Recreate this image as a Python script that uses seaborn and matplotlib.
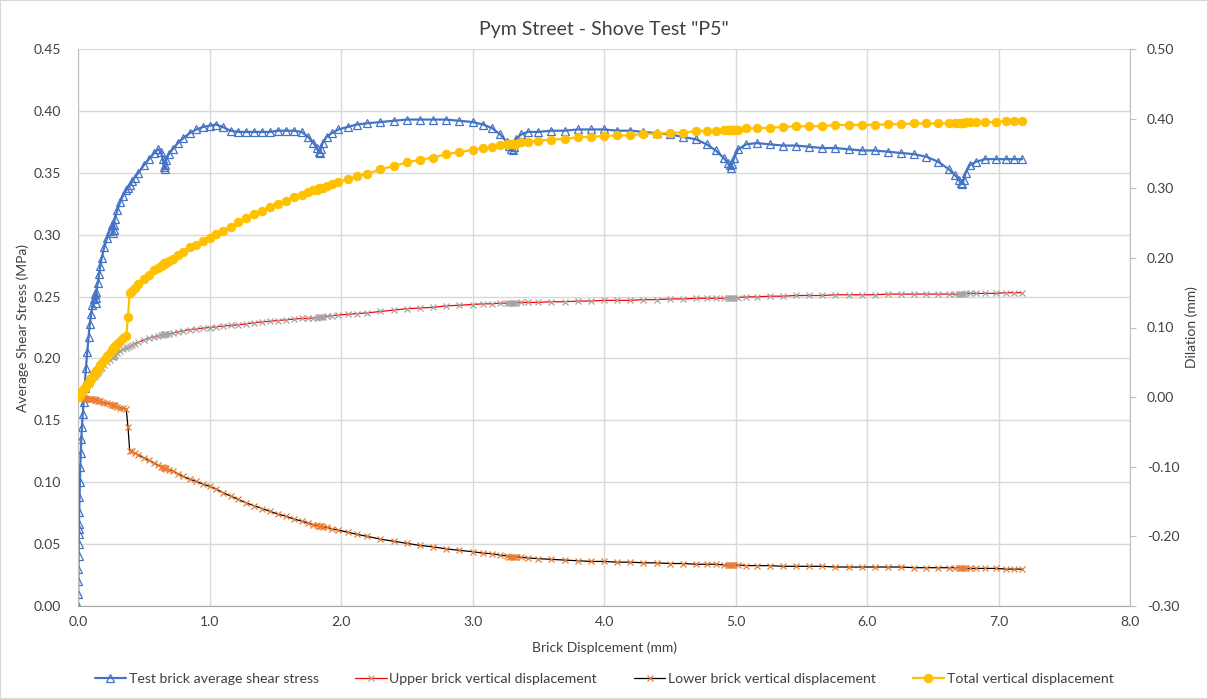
import matplotlib
matplotlib.use('Agg')
import numpy as np
import matplotlib.pyplot as plt
import seaborn as sns
from matplotlib.ticker import FormatStrFormatter

# brick displacement (mm) - shared x for every series
brick_disp = [
    0.000, 0.001, 0.002, 0.003, 0.004, 0.005, 0.006, 0.006, 0.007, 0.009,
    0.011, 0.014, 0.017, 0.021, 0.025, 0.030, 0.036, 0.043, 0.050, 0.060,
    0.070, 0.080, 0.090, 0.100, 0.110, 0.120, 0.130, 0.138, 0.139, 0.140,
    0.150, 0.160, 0.170, 0.180, 0.200, 0.220, 0.240, 0.260, 0.268, 0.270,
    0.272, 0.280, 0.300, 0.320, 0.340, 0.367, 0.380, 0.393, 0.410, 0.430,
    0.460, 0.500, 0.540, 0.580, 0.610, 0.630, 0.645, 0.655, 0.660, 0.662,
    0.670, 0.690, 0.720, 0.760, 0.800, 0.850, 0.900, 0.950, 1.000, 1.050,
    1.100, 1.160, 1.220, 1.280, 1.340, 1.400, 1.460, 1.520, 1.580, 1.640,
    1.700, 1.750, 1.790, 1.815, 1.830, 1.840, 1.845, 1.860, 1.890, 1.930,
    1.980, 2.050, 2.120, 2.200, 2.300, 2.400, 2.500, 2.600, 2.700, 2.800,
    2.900, 3.000, 3.080, 3.150, 3.210, 3.260, 3.280, 3.295, 3.305, 3.315,
    3.330, 3.370, 3.420, 3.500, 3.600, 3.700, 3.800, 3.900, 4.000, 4.100,
    4.200, 4.300, 4.400, 4.500, 4.600, 4.700, 4.780, 4.850, 4.910, 4.940,
    4.955, 4.965, 4.975, 4.990, 5.020, 5.080, 5.160, 5.260, 5.360, 5.460,
    5.560, 5.660, 5.760, 5.860, 5.960, 6.060, 6.160, 6.260, 6.360, 6.450,
    6.540, 6.620, 6.670, 6.700, 6.715, 6.725, 6.735, 6.750, 6.780, 6.830,
    6.900, 6.980, 7.060, 7.120, 7.180,
]

# test brick average shear stress (MPa) - left axis
shear_stress = [
    0.000, 0.010, 0.020, 0.030, 0.040, 0.050, 0.058, 0.062, 0.066, 0.076,
    0.088, 0.100, 0.112, 0.124, 0.135, 0.145, 0.155, 0.165, 0.176, 0.192,
    0.205, 0.217, 0.228, 0.236, 0.243, 0.248, 0.252, 0.245, 0.249, 0.254,
    0.261, 0.268, 0.275, 0.281, 0.290, 0.297, 0.303, 0.308, 0.301, 0.304,
    0.308, 0.313, 0.320, 0.326, 0.331, 0.336, 0.338, 0.340, 0.343, 0.346,
    0.350, 0.356, 0.361, 0.366, 0.369, 0.367, 0.361, 0.355, 0.353, 0.356,
    0.360, 0.365, 0.369, 0.374, 0.378, 0.382, 0.385, 0.387, 0.388, 0.389,
    0.387, 0.384, 0.383, 0.383, 0.383, 0.383, 0.383, 0.384, 0.384, 0.384,
    0.383, 0.379, 0.374, 0.370, 0.367, 0.366, 0.369, 0.374, 0.379, 0.382,
    0.385, 0.387, 0.389, 0.390, 0.391, 0.392, 0.393, 0.393, 0.393, 0.393,
    0.392, 0.391, 0.389, 0.386, 0.381, 0.375, 0.372, 0.369, 0.368, 0.371,
    0.377, 0.381, 0.383, 0.383, 0.384, 0.384, 0.385, 0.385, 0.385, 0.384,
    0.384, 0.383, 0.382, 0.381, 0.379, 0.377, 0.373, 0.368, 0.362, 0.358,
    0.356, 0.354, 0.357, 0.362, 0.369, 0.373, 0.374, 0.373, 0.372, 0.372,
    0.371, 0.370, 0.370, 0.369, 0.368, 0.368, 0.367, 0.366, 0.365, 0.363,
    0.359, 0.353, 0.348, 0.344, 0.342, 0.341, 0.344, 0.350, 0.356, 0.359,
    0.361, 0.361, 0.361, 0.361, 0.361,
]

# upper brick vertical displacement (mm) - right axis
upper_disp = [
    0.000, 0.000, 0.001, 0.001, 0.001, 0.001, 0.002, 0.002, 0.002, 0.002,
    0.003, 0.004, 0.004, 0.005, 0.006, 0.007, 0.009, 0.010, 0.012, 0.014,
    0.017, 0.019, 0.022, 0.024, 0.026, 0.029, 0.031, 0.033, 0.033, 0.033,
    0.035, 0.037, 0.040, 0.042, 0.046, 0.050, 0.054, 0.057, 0.058, 0.058,
    0.059, 0.060, 0.063, 0.066, 0.069, 0.071, 0.072, 0.073, 0.075, 0.077,
    0.079, 0.082, 0.085, 0.087, 0.088, 0.089, 0.089, 0.090, 0.090, 0.090,
    0.090, 0.091, 0.092, 0.094, 0.095, 0.097, 0.098, 0.099, 0.100, 0.101,
    0.102, 0.103, 0.104, 0.105, 0.107, 0.108, 0.109, 0.110, 0.111, 0.112,
    0.113, 0.113, 0.114, 0.114, 0.115, 0.115, 0.115, 0.115, 0.116, 0.117,
    0.118, 0.119, 0.120, 0.121, 0.123, 0.125, 0.127, 0.128, 0.129, 0.131,
    0.132, 0.133, 0.134, 0.134, 0.135, 0.135, 0.135, 0.135, 0.135, 0.135,
    0.135, 0.136, 0.136, 0.136, 0.137, 0.137, 0.138, 0.138, 0.139, 0.139,
    0.139, 0.140, 0.140, 0.141, 0.141, 0.142, 0.142, 0.142, 0.142, 0.143,
    0.143, 0.143, 0.143, 0.143, 0.143, 0.144, 0.144, 0.145, 0.145, 0.146,
    0.146, 0.146, 0.147, 0.147, 0.147, 0.147, 0.148, 0.148, 0.148, 0.148,
    0.148, 0.148, 0.148, 0.148, 0.148, 0.148, 0.148, 0.149, 0.149, 0.149,
    0.149, 0.149, 0.150, 0.150, 0.150,
]

# lower brick vertical displacement (mm) - right axis
lower_disp = [
    0.000, 0.000, 0.000, 0.000, 0.000, 0.000, 0.000, 0.000, 0.000, 0.000,
    0.000, 0.000, -0.001, -0.001, -0.001, -0.001, -0.001, -0.001, -0.001, -0.002,
    -0.002, -0.002, -0.002, -0.003, -0.003, -0.003, -0.004, -0.004, -0.004, -0.004,
    -0.005, -0.005, -0.006, -0.007, -0.008, -0.009, -0.010, -0.011, -0.012, -0.012,
    -0.012, -0.013, -0.014, -0.015, -0.016, -0.017, -0.043, -0.077, -0.078, -0.080,
    -0.083, -0.087, -0.091, -0.095, -0.098, -0.100, -0.101, -0.102, -0.102, -0.102,
    -0.103, -0.104, -0.106, -0.110, -0.114, -0.118, -0.121, -0.125, -0.128, -0.132,
    -0.137, -0.142, -0.147, -0.152, -0.156, -0.160, -0.164, -0.168, -0.171, -0.175,
    -0.178, -0.181, -0.183, -0.184, -0.185, -0.185, -0.185, -0.186, -0.187, -0.189,
    -0.191, -0.194, -0.197, -0.200, -0.204, -0.207, -0.210, -0.213, -0.215, -0.218,
    -0.220, -0.222, -0.224, -0.225, -0.227, -0.228, -0.229, -0.229, -0.229, -0.229,
    -0.229, -0.230, -0.231, -0.232, -0.233, -0.234, -0.235, -0.236, -0.236, -0.237,
    -0.237, -0.238, -0.238, -0.239, -0.239, -0.240, -0.240, -0.240, -0.241, -0.241,
    -0.241, -0.241, -0.241, -0.241, -0.241, -0.242, -0.242, -0.242, -0.243, -0.243,
    -0.243, -0.243, -0.244, -0.244, -0.244, -0.244, -0.244, -0.244, -0.245, -0.245,
    -0.245, -0.245, -0.245, -0.245, -0.245, -0.245, -0.246, -0.246, -0.246, -0.246,
    -0.246, -0.246, -0.247, -0.247, -0.247,
]

# total vertical displacement (mm) - right axis
total_disp = [
    0.000, 0.000, 0.001, 0.001, 0.001, 0.001, 0.002, 0.002, 0.002, 0.002,
    0.003, 0.004, 0.005, 0.006, 0.007, 0.008, 0.010, 0.011, 0.013, 0.016,
    0.019, 0.021, 0.024, 0.027, 0.029, 0.032, 0.035, 0.037, 0.037, 0.037,
    0.040, 0.042, 0.046, 0.049, 0.054, 0.059, 0.064, 0.068, 0.070, 0.070,
    0.071, 0.073, 0.077, 0.081, 0.085, 0.088, 0.115, 0.150, 0.153, 0.157,
    0.162, 0.169, 0.176, 0.182, 0.186, 0.189, 0.190, 0.192, 0.192, 0.192,
    0.193, 0.195, 0.198, 0.204, 0.209, 0.215, 0.219, 0.224, 0.229, 0.234,
    0.239, 0.245, 0.251, 0.257, 0.263, 0.268, 0.273, 0.278, 0.282, 0.287,
    0.291, 0.294, 0.297, 0.298, 0.300, 0.300, 0.300, 0.301, 0.303, 0.306,
    0.309, 0.313, 0.317, 0.321, 0.327, 0.332, 0.337, 0.341, 0.344, 0.349,
    0.352, 0.355, 0.358, 0.359, 0.362, 0.363, 0.364, 0.364, 0.364, 0.364,
    0.364, 0.366, 0.367, 0.368, 0.370, 0.371, 0.373, 0.374, 0.375, 0.376,
    0.376, 0.378, 0.378, 0.380, 0.380, 0.382, 0.382, 0.382, 0.383, 0.384,
    0.384, 0.384, 0.384, 0.384, 0.384, 0.386, 0.386, 0.387, 0.388, 0.389,
    0.389, 0.389, 0.391, 0.391, 0.391, 0.391, 0.392, 0.392, 0.393, 0.393,
    0.393, 0.393, 0.393, 0.393, 0.393, 0.393, 0.394, 0.395, 0.395, 0.395,
    0.395, 0.395, 0.397, 0.397, 0.397,
]

series_labels = [
    'Test brick average shear stress',
    'Upper brick vertical displacement',
    'Lower brick vertical displacement',
    'Total vertical displacement',
]

x_ticks = np.arange(0, 8.01, 1.0)
left_ticks = np.arange(0, 0.4501, 0.05)
right_ticks = np.arange(-0.3, 0.5001, 0.1)

for arr in (shear_stress, upper_disp, lower_disp, total_disp):
    assert len(arr) == len(brick_disp)


def main():
    sns.set_style('white')
    plt.rcParams['font.family'] = ['Lato', 'DejaVu Sans']
    plt.rcParams['axes.unicode_minus'] = False
    text_color = '#404040'
    axis_color = '#BFBFBF'
    grid_color = '#D9D9D9'

    fig = plt.figure(figsize=(12.08, 6.99), dpi=100)
    W, H = 1208, 699
    left, right, top, bottom = 78, 1130, 49, 606
    ax = fig.add_axes([left / W, 1 - bottom / H, (right - left) / W, (bottom - top) / H])
    ax2 = ax.twinx()

    # primary axis: shear stress
    sns.lineplot(x=brick_disp, y=shear_stress, ax=ax, estimator=None, sort=False,
                 color='#4472C4', linewidth=1.6, marker='^', markersize=5.5,
                 markerfacecolor='none', markeredgecolor='#4472C4',
                 markeredgewidth=0.9, label=series_labels[0], legend=False)

    # secondary axis: displacements
    sns.lineplot(x=brick_disp, y=upper_disp, ax=ax2, estimator=None, sort=False,
                 color='#FF0000', linewidth=0.9, marker='x', markersize=4.3,
                 markeredgecolor='#A5A5A5', markeredgewidth=0.9,
                 label=series_labels[1], legend=False)
    sns.lineplot(x=brick_disp, y=lower_disp, ax=ax2, estimator=None, sort=False,
                 color='black', linewidth=0.9, marker='x', markersize=4.3,
                 markeredgecolor='#ED7D31', markeredgewidth=0.9,
                 label=series_labels[2], legend=False)
    sns.lineplot(x=brick_disp, y=total_disp, ax=ax2, estimator=None, sort=False,
                 color='#FFC000', linewidth=1.6, marker='o', markersize=6.3,
                 markerfacecolor='#FFC000', markeredgecolor='#FFC000',
                 markeredgewidth=0.5, label=series_labels[3], legend=False)

    # limits and ticks
    ax.set_xlim(0, 8)
    ax.set_ylim(0, 0.45)
    ax2.set_ylim(-0.3, 0.5)
    ax.set_xticks(x_ticks)
    ax.set_yticks(left_ticks)
    ax2.set_yticks(right_ticks)
    ax.xaxis.set_major_formatter(FormatStrFormatter('%.1f'))
    ax.yaxis.set_major_formatter(FormatStrFormatter('%.2f'))
    ax2.yaxis.set_major_formatter(FormatStrFormatter('%.2f'))

    ax.grid(True, color=grid_color, linewidth=1)
    ax2.grid(False)
    ax.set_axisbelow(True)

    for side in ['top', 'right']:
        ax.spines[side].set_visible(False)
    for side in ['top', 'left', 'bottom']:
        ax2.spines[side].set_visible(False)
    ax.spines['left'].set_color(axis_color)
    ax.spines['bottom'].set_color('#A6A6A6')
    ax2.spines['right'].set_color(axis_color)

    ax.tick_params(axis='y', length=0, pad=12, labelsize=10, labelcolor=text_color)
    ax.tick_params(axis='x', length=4, color=axis_color, pad=3, labelsize=10,
                   labelcolor=text_color)
    ax2.tick_params(axis='y', length=4, color=axis_color, pad=8, labelsize=10,
                    labelcolor=text_color)

    # axis titles
    ax.set_xlabel('Brick Displcement (mm)', fontsize=10, color=text_color)
    ax.set_ylabel('Average Shear Stress (MPa)', fontsize=10, color=text_color)
    ax2.set_ylabel('Dilation (mm)', fontsize=10, color=text_color)
    ax.xaxis.set_label_coords(0.5, (bottom - 641) / (bottom - top))
    ax.yaxis.set_label_coords((29 - left) / (right - left), 0.5)
    ax2.yaxis.set_label_coords((1185 - left) / (right - left), 0.5)

    fig.text(0.5, 1 - 29 / H, 'Pym Street - Shove Test "P5"', ha='center',
             va='center', fontsize=14, color=text_color)

    # legend along the bottom
    h1, l1 = ax.get_legend_handles_labels()
    h2, l2 = ax2.get_legend_handles_labels()
    fig.legend(handles=h1 + h2, labels=l1 + l2, loc='center',
               bbox_to_anchor=(0.5, 1 - 679 / H), ncol=4, frameon=False,
               fontsize=10.2, labelcolor=text_color, columnspacing=2.6,
               handlelength=2.2, handletextpad=0.2)

    # chart area border
    fig.add_artist(plt.Rectangle((0, 0), 1, 1, transform=fig.transFigure,
                                 fill=False, edgecolor=grid_color, linewidth=1.5))

    fig.savefig('out.png', dpi=100)
    plt.close(fig)


if __name__ == '__main__':
    main()
